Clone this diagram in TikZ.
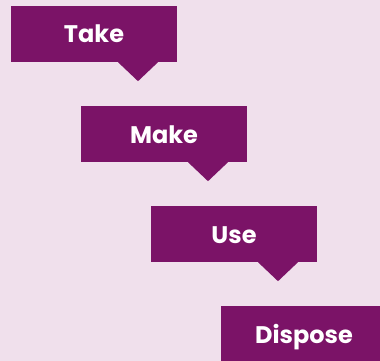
\documentclass[tikz,border=0pt]{standalone}
\usepackage{fontspec}
\setmainfont{Poppins}
\usepackage{tikz}
\definecolor{plum}{RGB}{123,19,103}
\definecolor{blush}{RGB}{240,224,236}
\tikzset{
  stagebox/.style={fill=plum, text=white, minimum width=166pt,
    text height=37pt, text depth=19pt, inner sep=0pt,
    font=\fontsize{24}{28}\selectfont\bfseries}}
% little speech-bubble tip under a box
\newcommand{\pointer}[1]{%
  \fill[plum] ([xshift=24pt]#1.south) -- ([xshift=64pt]#1.south)
        -- ([xshift=44pt,yshift=-19pt]#1.south) -- cycle;}

\begin{document}
\begin{tikzpicture}[x=1pt,y=-1pt]
  \fill[blush] (0,0) rectangle (380,361);
  \useasboundingbox (0,0) rectangle (380,361);
  \node[stagebox] (take) at (94,34) {Take};
  \pointer{take}
  \node[stagebox] (make) at (164,134) {Make};
  \pointer{make}
  \node[stagebox] (use) at (234,234) {Use};
  \pointer{use}
  \node[stagebox] (dispose) at (304,334) {Dispose};
\end{tikzpicture}
\end{document}
